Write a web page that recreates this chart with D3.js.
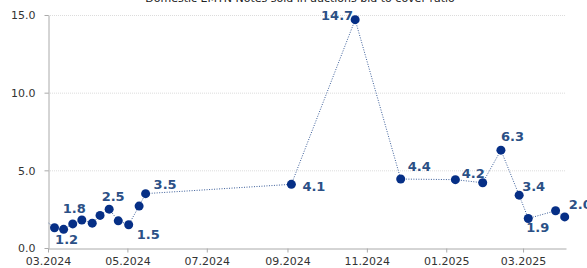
<!DOCTYPE html>
<html lang="en">
<head>
<meta charset="UTF-8">
<title>Bid to cover ratio</title>
<script src="https://d3js.org/d3.v7.min.js"></script>
<style>
  html, body { margin: 0; padding: 0; background: #fff; }
  svg { display: block; font-family: "DejaVu Sans", Verdana, sans-serif; }
</style>
</head>
<body>
<svg id="chart"></svg>
<script>
// auction dates and bid-to-cover values
const dates = [
  "2024-02-26", "2024-03-06", "2024-03-13", "2024-03-20", "2024-03-27", "2024-04-04",
  "2024-04-10", "2024-04-17", "2024-04-24", "2024-05-02", "2024-05-10", "2024-05-15",
  "2024-09-04", "2024-10-23", "2024-11-27", "2025-01-08", "2025-01-29", "2025-02-12",
  "2025-02-26", "2025-03-05", "2025-03-26", "2025-04-02"
];
const values = [
  1.9, 1.3, 1.2, 1.55, 1.8, 1.6,
  2.1, 2.5, 1.75, 1.5, 2.7, 3.5,
  4.1, 14.7, 4.44, 4.4, 4.2, 6.3,
  3.4, 1.9, 2.4, 2.0
];
// which points carry a value label (by index)
const labelledIdx = [2, 4, 7, 9, 11, 12, 13, 14, 16, 17, 18, 19, 21];
const yTicks = [0, 5, 10, 15];
const xTickDates = ["2024-03-01", "2024-05-01", "2024-07-01", "2024-09-01", "2024-11-01", "2025-01-01", "2025-03-01"];
const title = "Domestic EMTN Notes sold in auctions bid to cover ratio";

// label placement relative to its point: [dx, dy, anchor]
const labelOffset = {
  2: [3, 15, "middle"], 4: [4, -7, "end"], 7: [4, -8, "middle"], 9: [8, 14, "start"],
  11: [8, -5, "start"], 12: [11, 7, "start"], 13: [-2, 0, "end"], 14: [7, -8, "start"],
  16: [2, -5, "end"], 17: [0, -9, "start"], 18: [3, -4, "start"], 19: [-2, 14, "start"],
  21: [4, -8, "start"]
};

const width = 587, height = 268;
const margin = {left: 48, right: 21, top: 15, bottom: 20};
const parse = d3.timeParse("%Y-%m-%d");
const data = dates.map((d, i) => ({date: parse(d), value: values[i], i}));

const svg = d3.select("#chart").attr("width", width).attr("height", height);

const x = d3.scaleTime()
  .domain([parse("2024-03-01"), parse("2025-04-03")])
  .range([margin.left, width - margin.right]);
const y = d3.scaleLinear()
  .domain([0, 15])
  .range([height - margin.bottom, margin.top]);

// title, mostly cut off at the top edge as in the source
svg.append("text")
  .attr("x", 300).attr("y", 2)
  .attr("text-anchor", "middle")
  .style("font-size", "11px")
  .attr("fill", "#222")
  .text(title);

svg.append("defs").append("clipPath").attr("id", "plot")
  .append("rect")
  .attr("x", margin.left).attr("y", 0)
  .attr("width", width - margin.left).attr("height", height);

// gridlines
svg.append("g")
  .selectAll("line")
  .data(yTicks.filter(t => t > 0))
  .join("line")
  .attr("x1", margin.left).attr("x2", width - margin.right)
  .attr("y1", d => y(d) + 0.5).attr("y2", d => y(d) + 0.5)
  .attr("stroke", "#dcdcdc")
  .attr("stroke-dasharray", "1,1");

// axes
const yAxis = svg.append("g")
  .attr("transform", `translate(${margin.left + 0.5},0)`)
  .call(d3.axisLeft(y).tickValues(yTicks).tickFormat(d3.format(".1f")).tickSize(4).tickSizeOuter(0));
const xAxis = svg.append("g")
  .attr("transform", `translate(0,${height - margin.bottom + 0.5})`)
  .call(d3.axisBottom(x).tickValues(xTickDates.map(parse)).tickFormat(d3.timeFormat("%m.%Y")).tickSize(4).tickSizeOuter(0));
[yAxis, xAxis].forEach(a => {
  a.select(".domain").attr("stroke", "#aaa");
  a.selectAll(".tick line").attr("stroke", "#aaa");
  a.selectAll(".tick text").attr("fill", "#333").style("font-size", "11px")
    .style("font-family", "\"DejaVu Sans\", Verdana, sans-serif");
});
yAxis.selectAll(".tick text").attr("x", -13).attr("dy", "0.35em");
xAxis.selectAll(".tick text").attr("y", 9);

// line and points
const plot = svg.append("g").attr("clip-path", "url(#plot)");
plot.append("path")
  .datum(data)
  .attr("fill", "none")
  .attr("stroke", "#3b5e9a")
  .attr("stroke-width", 1)
  .attr("stroke-dasharray", "1,1.5")
  .attr("d", d3.line().x(d => x(d.date)).y(d => y(d.value)));

plot.selectAll("circle")
  .data(data)
  .join("circle")
  .attr("cx", d => x(d.date))
  .attr("cy", d => y(d.value))
  .attr("r", 4.5)
  .attr("fill", "#062f86");

// value labels
svg.append("g")
  .selectAll("text")
  .data(data.filter(d => labelledIdx.includes(d.i)))
  .join("text")
  .attr("x", d => x(d.date) + labelOffset[d.i][0])
  .attr("y", d => y(d.value) + labelOffset[d.i][1])
  .attr("text-anchor", d => labelOffset[d.i][2])
  .attr("fill", "#2b5086")
  .style("font-size", "13px")
  .style("font-weight", "bold")
  .text(d => d.value.toFixed(1));
</script>
</body>
</html>
